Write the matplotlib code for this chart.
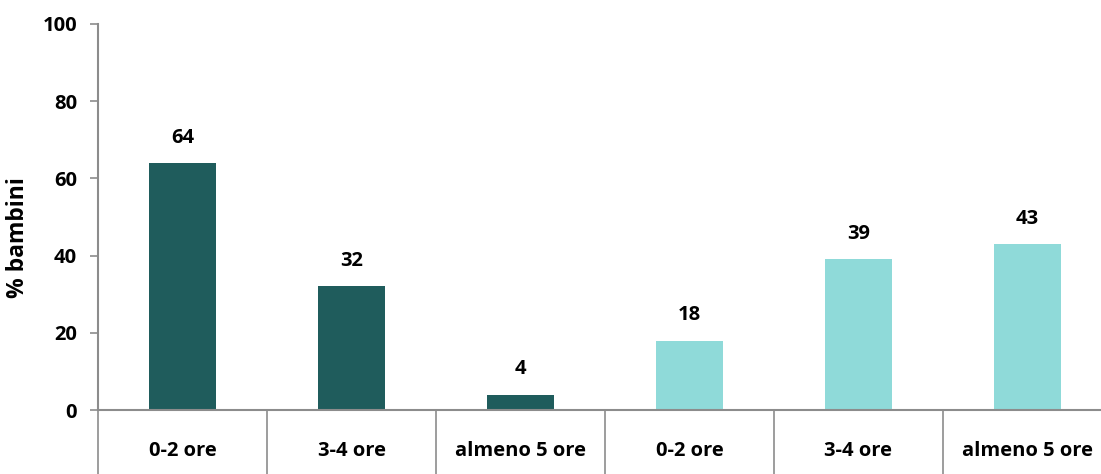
import matplotlib

matplotlib.use("Agg")

import matplotlib.pyplot as plt
import numpy as np

plt.rcParams["font.family"] = ["Open Sans", "DejaVu Sans"]
plt.rcParams["font.weight"] = "bold"

CATEGORIES = ["0-2 ore", "3-4 ore", "almeno 5 ore", "0-2 ore", "3-4 ore", "almeno 5 ore"]
VALUES = [64, 32, 4, 18, 39, 43]
GROUP = [0, 0, 0, 1, 1, 1]
GROUP_COLORS = ["#1F5C5C", "#8FDAD9"]
Y_TICKS = [0, 20, 40, 60, 80, 100]
Y_LABEL = "% bambini"

GRAY = "#8C8C8C"
FS = 14.5

fig = plt.figure(figsize=(11.01, 4.74), dpi=100)
W, H = 1101, 474
left, right, top, bottom = 98, 1112, 24, 410
ax = fig.add_axes([left / W, 1 - bottom / H, (right - left) / W, (bottom - top) / H])

x = np.arange(len(VALUES))
colors = [GROUP_COLORS[g] for g in GROUP]
ax.bar(x, VALUES, width=0.4, color=colors, zorder=2)

for xi, v in zip(x, VALUES):
    ax.text(xi, v + 6.5, f"{v}", ha="center", va="center", fontsize=FS, fontweight="bold")

ax.set_xlim(-0.5, len(VALUES) - 0.5)
ax.set_ylim(0, 100)
ax.set_yticks(Y_TICKS)
ax.set_yticklabels([str(t) for t in Y_TICKS], fontsize=FS, fontweight="bold")
ax.tick_params(axis="y", length=6, width=1.2, color=GRAY, pad=9)
ax.set_xticks([])

for side in ["top", "right"]:
    ax.spines[side].set_visible(False)
for side in ["left", "bottom"]:
    ax.spines[side].set_color(GRAY)
    ax.spines[side].set_linewidth(1.5)

# category cells below the axis
trans = ax.get_xaxis_transform()
for b in np.arange(len(VALUES) + 1) - 0.5:
    ax.plot([b, b], [0, -0.2], transform=trans, color=GRAY, lw=1.2, clip_on=False)
for xi, cat in zip(x, CATEGORIES):
    ax.text(xi, -0.105, cat, transform=trans, ha="center", va="center",
            fontsize=FS, fontweight="bold")

fig.text(18 / W, 1 - 238 / H, Y_LABEL, rotation=90, ha="center", va="center",
         fontsize=16.5, fontweight="bold")

fig.savefig("out.png", dpi=100, facecolor="white")
